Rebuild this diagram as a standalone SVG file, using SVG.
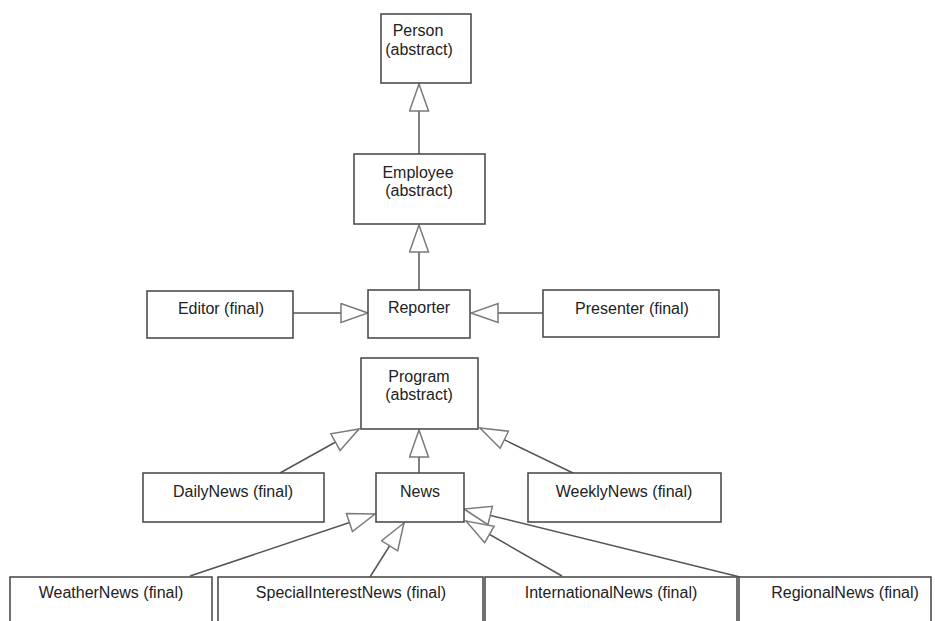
<svg xmlns="http://www.w3.org/2000/svg" width="935" height="621" viewBox="0 0 935 621">
  <style>
    .box { fill: #ffffff; stroke: #4e4e4e; stroke-width: 1.6; }
    .lbl { font-family: "Liberation Sans", Arial, sans-serif; font-size: 16px; fill: #222222; text-anchor: middle; }
    .edge { fill: none; stroke: #555555; stroke-width: 1.5; marker-end: url(#gen); }
  </style>
  <defs>
    <!-- hollow triangle for generalisation -->
    <marker id="gen" markerUnits="userSpaceOnUse" markerWidth="30" markerHeight="22" viewBox="-1 -1 30 22" refX="27" refY="9.5" orient="auto">
      <path d="M27,9.5 L0,0 L0,19 Z" fill="#ffffff" stroke="#7a7a7a" stroke-width="1.5" stroke-linejoin="miter"/>
    </marker>
  </defs>
  <rect width="935" height="621" fill="#ffffff"/>

  <g id="connectors">
    <line class="edge" x1="419" y1="154" x2="419" y2="84"/>
    <line class="edge" x1="419" y1="290" x2="419" y2="225"/>
    <line class="edge" x1="293" y1="313" x2="368" y2="313"/>
    <line class="edge" x1="543" y1="313" x2="471" y2="313"/>
    <line class="edge" x1="280" y1="473" x2="359" y2="429"/>
    <line class="edge" x1="419" y1="473" x2="419" y2="430"/>
    <line class="edge" x1="573" y1="473" x2="480" y2="428"/>
    <line class="edge" x1="190" y1="576" x2="375" y2="514"/>
    <line class="edge" x1="370" y1="577" x2="404" y2="523"/>
    <line class="edge" x1="562" y1="576" x2="466" y2="521"/>
    <line class="edge" x1="740" y1="577" x2="464" y2="509"/>
  </g>

  <g id="person">
    <rect class="box" x="381" y="14" width="90" height="69"/>
    <text class="lbl" x="418" y="36">Person</text>
    <text class="lbl" x="419" y="55">(abstract)</text>
  </g>
  <g id="employee">
    <rect class="box" x="354" y="154" width="131" height="70"/>
    <text class="lbl" x="418" y="178">Employee</text>
    <text class="lbl" x="419" y="196">(abstract)</text>
  </g>
  <g id="editor">
    <rect class="box" x="147" y="291" width="146" height="47"/>
    <text class="lbl" x="221" y="314">Editor (final)</text>
  </g>
  <g id="reporter">
    <rect class="box" x="368" y="290" width="102" height="48"/>
    <text class="lbl" x="419" y="313">Reporter</text>
  </g>
  <g id="presenter">
    <rect class="box" x="543" y="290" width="176" height="47"/>
    <text class="lbl" x="632" y="314">Presenter (final)</text>
  </g>
  <g id="program">
    <rect class="box" x="361" y="358" width="117" height="71"/>
    <text class="lbl" x="419" y="382">Program</text>
    <text class="lbl" x="419" y="400">(abstract)</text>
  </g>
  <g id="dailynews">
    <rect class="box" x="143" y="473" width="181" height="49"/>
    <text class="lbl" x="233" y="497">DailyNews (final)</text>
  </g>
  <g id="news">
    <rect class="box" x="376" y="473" width="88" height="49"/>
    <text class="lbl" x="420" y="497">News</text>
  </g>
  <g id="weeklynews">
    <rect class="box" x="528" y="473" width="193" height="49"/>
    <text class="lbl" x="624" y="497">WeeklyNews (final)</text>
  </g>
  <g id="weathernews">
    <rect class="box" x="10" y="577" width="202" height="60"/>
    <text class="lbl" x="111" y="598">WeatherNews (final)</text>
  </g>
  <g id="specialinterestnews">
    <rect class="box" x="218" y="577" width="265" height="60"/>
    <text class="lbl" x="351" y="598">SpecialInterestNews (final)</text>
  </g>
  <g id="internationalnews">
    <rect class="box" x="485" y="577" width="252" height="60"/>
    <text class="lbl" x="611" y="598">InternationalNews (final)</text>
  </g>
  <g id="regionalnews">
    <rect class="box" x="739" y="577" width="192" height="60"/>
    <text class="lbl" x="845" y="598">RegionalNews (final)</text>
  </g>
</svg>
